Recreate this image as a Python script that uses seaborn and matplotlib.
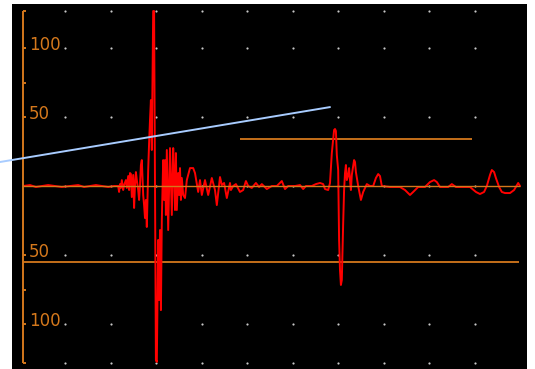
import matplotlib
matplotlib.use("Agg")
import matplotlib.pyplot as plt
import numpy as np
import pandas as pd
import seaborn as sns

# A-scan trace: sound path (mm) and echo amplitude (% screen height)
depth = [
    0.7, 2.2, 3.5, 4.8, 6.2, 7.7, 9.2, 11.0, 12.8, 14.1, 15.4, 16.7, 18.0, 19.4, 20.7, 21.6,
    21.8, 22.0, 22.2, 22.4, 22.7, 22.9, 23.3, 23.5, 23.8, 24.0, 24.2, 24.4, 24.6, 24.9,
    25.1, 25.3, 25.5, 25.7, 26.0, 26.2, 26.4, 26.6, 26.8, 27.1, 27.3, 27.5, 27.7, 27.9,
    28.2, 28.4, 28.6, 28.8, 29.0, 29.3, 29.5, 29.7, 29.9, 30.1, 30.4, 30.6, 30.8, 31.0,
    31.2, 31.5, 31.7, 31.9, 32.1, 32.3, 32.6, 32.8, 33.0, 33.2, 33.4, 33.7, 33.9, 34.1,
    34.3, 34.5, 34.8, 35.0, 35.2, 35.4, 35.6, 35.9, 36.3, 36.7, 37.4, 38.1, 38.5, 39.2,
    39.6, 40.0, 40.7, 41.4, 42.2, 42.9, 43.3, 44.0, 44.4, 44.9, 45.5, 46.2, 46.4, 46.9,
    47.5, 48.4, 49.1, 49.7, 50.2, 51.0, 51.9, 52.6, 53.2, 54.3, 55.4, 56.5, 57.6, 58.3,
    59.0, 60.5, 61.6, 62.3, 62.9, 64.2, 65.1, 66.0, 66.7, 67.1, 67.8, 68.2, 68.6, 69.1,
    69.3, 69.5, 69.7, 70.0, 70.2, 70.4, 70.6, 70.8, 71.1, 71.3, 71.5, 71.7, 71.9, 72.2,
    72.4, 72.6, 72.8, 73.0, 73.5, 73.7, 73.9, 74.4, 75.0, 75.5, 75.9, 76.3, 77.0, 77.7,
    78.3, 78.8, 79.2, 79.6, 81.4, 83.6, 84.7, 85.8, 86.5, 87.6, 89.1, 90.2, 91.1, 91.7,
    92.4, 94.2, 95.0, 95.9, 99.0, 100.3, 101.2, 102.1, 102.7, 103.4, 103.8, 104.3, 104.7,
    105.4, 106.0, 106.7, 107.8, 108.7, 109.6, 110.0,
]
amplitude = [
    0, 0.7, -0.7, 0, 0.7, 0, -0.7, 0, 0.7, -0.7, 0, 0.7, 0, -0.7, 0, 0,
    -4.3, 1.4, -1.4, 4.3, -2.9, 0.7, 4.3, -1.4, 7.2, -2.9, 9.4, 8.7, -8.0, 8.0,
    -15.9, 0.7, 10.1, 4.3, -2.9, -10.1, 0.7, 15.2, 18.8, -6.5, -13.8, -23.2, -10.1, -29.7,
    11.6, 31.2, 47.8, 62.3, 26.1, 126.8, 126.8, 0, -126.1, -127.5, -39.1, -82.6, -31.9, -89.9,
    -24.6, 18.8, -10.1, 18.8, -21.0, 26.1, -31.9, -2.9, 27.5, 4.3, -21.0, 27.5, 8.0, -17.4,
    23.9, -17.4, 9.4, -6.5, 13.0, -10.1, 5.8, -6.5, -8.7, 4.3, 13.0, 13.0, 9.4, -4.3,
    4.3, -6.5, 4.3, -6.5, 5.8, -2.9, -13.8, 6.5, 0.7, 2.2, -8.7, 2.2, -2.9, 0,
    1.4, -4.3, -2.9, 3.6, 0, -1.4, 2.2, -0.7, 1.4, -2.2, 0, 0, 3.6, -2.2,
    0, 0, 0.7, -2.2, 0, 0, 1.4, 2.2, 1.4, -2.2, -2.9, 2.2, 23.9, 40.6,
    41.3, 39.9, 22.5, 11.6, -39.1, -60.9, -71.7, -68.1, -26.8, -2.9, 9.4, 15.2, 4.3, 8.0,
    13.0, 4.3, -2.9, 8.0, 18.8, 17.4, 10.1, 0, -10.1, -4.3, -1.4, 1.4, 0, 0,
    5.8, 8.7, 7.2, 0, -0.7, -0.7, -2.9, -6.5, -4.3, -0.7, -0.7, 2.9, 4.3, 2.9,
    -0.7, -0.7, 1.4, -0.7, -0.7, -4.3, -5.8, -4.3, 0, 8.0, 11.6, 10.1, 5.8,
    -0.7, -4.3, -5.1, -5.1, -2.9, 2.2, 0,
]

# Amplitude scale and labels
scale_ticks = [100, 75, 50, -50, -75, -100]
label_ticks = [100, 50, -50, -100]
label_text = ["100", "50", "50", "100"]
scale_top, scale_bottom = 126.8, -128.3

# Graticule dots
grid_x = [10, 20, 30, 40, 50, 60, 70, 80, 90, 100]
grid_y = [126.8, 100, 50, 0, -50, -100, -128.3]

# Gate, alarm level and DAC curve
gate_level, gate_start, gate_end = 34.1, 48.4, 99.4
alarm_level = -55.1
dac_x = [-4.4, 68.2]
dac_y = [17.4, 57.2]

ORANGE = "#d4781c"

sns.set_style("white")
fig = plt.figure(figsize=(5.35, 3.69), dpi=100, facecolor="white")
ax = fig.add_axes([12 / 535, 0, 515 / 535, 365 / 369])
ax.set_facecolor("black")
ax.set_xlim(-1.76, 111.54)
ax.set_ylim(-132.6, 131.9)
for s in ax.spines.values():
    s.set_visible(False)
ax.set_xticks([])
ax.set_yticks([])

gx, gy = np.meshgrid(grid_x, grid_y)
ax.scatter(gx.ravel(), gy.ravel(), s=2.5, color="#c8c8c8", linewidths=0, zorder=1)

df = pd.DataFrame({"depth": depth, "amplitude": amplitude})
sns.lineplot(data=df, x="depth", y="amplitude", color="#ff0000", lw=1.4,
             estimator=None, sort=False, ax=ax, zorder=3)
ax.set_xlabel("")
ax.set_ylabel("")

x0 = depth[0]
ax.hlines(0, x0, depth[-1], color=ORANGE, lw=1.0, zorder=4)
ax.hlines(alarm_level, x0, 109.8, color=ORANGE, lw=1.3, zorder=2)
ax.hlines(gate_level, gate_start, gate_end, color=ORANGE, lw=1.3, zorder=2)

# Vertical amplitude scale with bracket ends
ax.vlines(x0, scale_bottom, scale_top, color=ORANGE, lw=1.4, zorder=5)
for t in scale_ticks + [scale_top, scale_bottom]:
    ax.hlines(t, x0, x0 + 0.7, color=ORANGE, lw=1.4, zorder=5)
for t, s in zip(label_ticks, label_text):
    ax.text(x0 + 1.2, t + 2.2, s, color=ORANGE, fontsize=12, va="center", ha="left",
            family="DejaVu Sans", zorder=5)

ax.plot(dac_x, dac_y, color="#a8ccff", lw=1.4, clip_on=False, zorder=6)

fig.savefig("out.png", dpi=100, facecolor="white")
